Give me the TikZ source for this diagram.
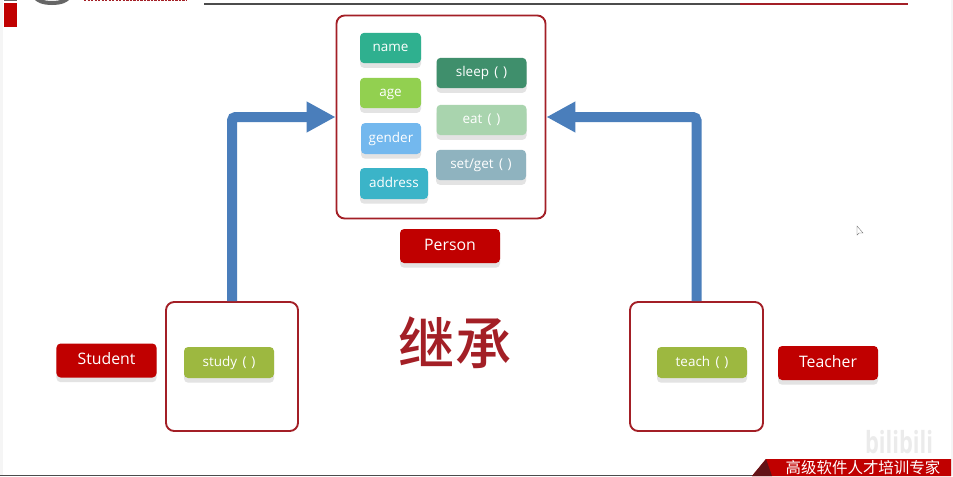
\documentclass[tikz,border=0pt]{standalone}
\usepackage{fontspec}
\setmainfont{Open Sans}
\newfontfamily\cjk[BoldFont={Noto Sans CJK SC Medium}]{Noto Sans CJK SC}
\usetikzlibrary{arrows.meta,shadows}
\definecolor{framered}{HTML}{A31F26}
\definecolor{labelred}{HTML}{C00000}
\definecolor{arrowblue}{HTML}{4A7EBB}
\definecolor{namecol}{HTML}{2FB08F}
\definecolor{agecol}{HTML}{92D050}
\definecolor{gendercol}{HTML}{73B8EE}
\definecolor{addresscol}{HTML}{3BB4C8}
\definecolor{sleepcol}{HTML}{3F8F6C}
\definecolor{eatcol}{HTML}{A9D4AE}
\definecolor{setgetcol}{HTML}{8FB3BF}
\definecolor{methodcol}{HTML}{9DB840}
\newcommand{\callname}[1]{#1\hspace{.4em}(\hspace{.35em})\hspace{.55em}}
\tikzset{
  pill/.style={rounded corners=3.5pt,text=white,font=\fontsize{11.5}{12}\selectfont,inner sep=0pt,
    text height=8.5pt,text depth=2.5pt,
    drop shadow={shadow xshift=0pt,shadow yshift=-4pt,opacity=1,fill=black!11}},
  classframe/.style={draw=framered,line width=1.6pt,rounded corners=7pt,fill=white,inner sep=0pt},
  classname/.style={pill,fill=labelred,minimum width=3cm,minimum height=1.02cm,
    text height=10pt,text depth=3pt,font=\fontsize{13.5}{14}\selectfont},
  extends/.style={draw=arrowblue,line width=.3cm,rounded corners=3pt,-{Triangle[length=.87cm,width=.87cm]}},
}
\begin{document}
\begin{tikzpicture}[x=.03cm,y=-.03cm]
\useasboundingbox (0,0) rectangle (953,476);
\fill[white] (0,0) rectangle (953,476);
\fill[black!4] (0,0) rectangle (3,476);
\fill[black!4] (951,0) rectangle (953,476);

%top of the slide:
\fill[labelred] (4,3) rectangle (17,27);
\fill[black!60] (4,0) rectangle (17,1);
\draw[black!60,line width=.12cm] (36,-3) arc (180:0:16 and 6);
\draw[framered,line width=.05cm,dash pattern=on 2pt off 1pt] (84,.6) -- (186,.6);
\draw[black!70,line width=.05cm] (204,4) -- (740,4);
\draw[framered,line width=.05cm] (740,4) -- (908,4);

%parent:
\node[classframe,minimum width=6.27cm,minimum height=6.09cm] (person) at (441,117) {};
\node[pill,fill=namecol,minimum width=1.83cm,minimum height=.91cm] (name) at (390.5,48) {name};
\node[pill,fill=agecol,minimum width=1.83cm,minimum height=.91cm] (age) at (390.5,93) {age};
\node[pill,fill=gendercol,minimum width=1.8cm,minimum height=.93cm] (gender) at (391,138.5) {gender};
\node[pill,fill=addresscol,minimum width=2.04cm,minimum height=.93cm] (address) at (394,183.5) {address};
\node[pill,fill=sleepcol,minimum width=2.7cm,minimum height=.91cm] (sleep) at (481.5,73) {\callname{sleep}};
\node[pill,fill=eatcol,minimum width=2.7cm,minimum height=.91cm] (eat) at (481.5,120) {\callname{eat}};
\node[pill,fill=setgetcol,minimum width=2.7cm,minimum height=.91cm] (setget) at (481,165) {\callname{set/get}};
\node[classname] (personname) at (450,246) {Person};

%children:
\node[classframe,minimum width=3.96cm,minimum height=3.87cm] (student) at (232,366.5) {};
\node[pill,fill=methodcol,minimum width=2.7cm,minimum height=.93cm] (study) at (229,362.5) {\callname{study}};
\node[classname] (studentname) at (106.5,360.5) {Student};
\node[classframe,minimum width=3.99cm,minimum height=3.87cm] (teacher) at (696.5,366.5) {};
\node[pill,fill=methodcol,minimum width=2.7cm,minimum height=.93cm] (teach) at (702,362.5) {\callname{teach}};
\node[classname] (teachername) at (828,363) {Teacher};

%inheritance:
\draw[extends] (student.north) |- (person.west);
\draw[extends] (teacher.north) |- (person.east);

\node[text=framered,font=\cjk\bfseries\fontsize{48}{48}\selectfont] (title) at (455,343) {继承};

%bottom of the slide:
\node[text=black!8,xscale=.72,inner sep=0pt,font=\bfseries\fontsize{26}{26}\selectfont] (mark) at (899,442) {bilibili};
\fill[black!70] (0,474.5) rectangle (770,476);
\fill[labelred] (766,459) -- (951,459) -- (951,476) -- (752,476) -- cycle;
\fill[framered!60!black] (752,476) -- (766,459) -- (772,476) -- cycle;
\node[text=white,font=\cjk\fontsize{13.2}{14}\selectfont] (slogan) at (863,468) {高级软件人才培训专家};
\draw[black!60,fill=white,line width=.01cm] (857,226) -- (857,235) -- (859,233) -- (863,233) -- cycle;
\end{tikzpicture}
\end{document}
